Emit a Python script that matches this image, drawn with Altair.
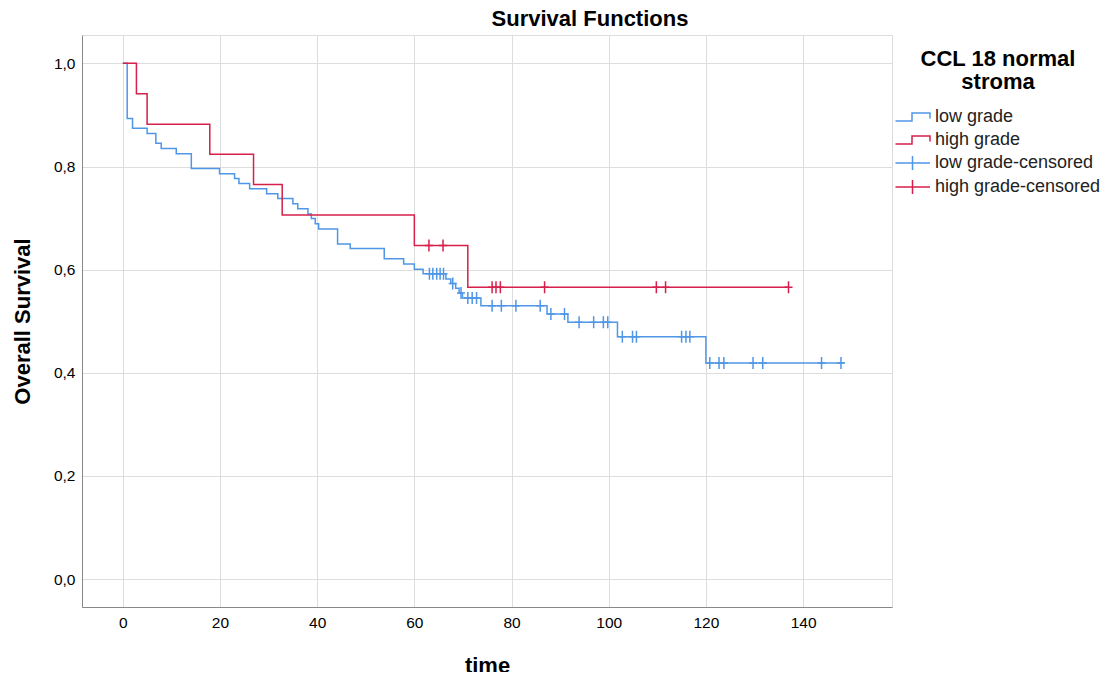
import altair as alt
import pandas as pd

FONT = "Liberation Sans"
BLUE = "#4f96e6"
RED = "#d61f4a"

# ---- data -------------------------------------------------------------
low_time = [0, 0.9, 2.0, 5.0, 6.8, 7.9, 11.0, 14.1, 19.9, 23.0, 23.9, 26.1, 29.6,
            31.9, 35.0, 36.0, 38.1, 38.8, 39.6, 40.3, 44.2, 46.8, 53.8, 57.8,
            60.0, 61.8, 66.5, 67.5, 68.5, 69.2, 69.9, 73.7, 87.3, 91.6, 101.8,
            120.0, 148.5]
low_surv = [1.0, 0.893, 0.874, 0.864, 0.845, 0.835, 0.825, 0.796, 0.786, 0.777,
            0.767, 0.757, 0.747, 0.738, 0.728, 0.718, 0.708, 0.699, 0.689, 0.679,
            0.650, 0.641, 0.621, 0.611, 0.601, 0.592, 0.582, 0.573, 0.564, 0.555,
            0.545, 0.530, 0.514, 0.498, 0.470, 0.419, 0.419]

high_time = [0, 2.8, 5.0, 17.9, 26.9, 32.8, 60.0, 71.0, 137.0]
high_surv = [1.0, 0.941, 0.882, 0.824, 0.765, 0.706, 0.647, 0.566, 0.566]

low_cens_time = [63.1, 63.8, 64.6, 65.3, 66.0, 67.9, 69.6, 71.0, 71.9, 72.8,
                 76.0, 77.9, 80.9, 85.9, 88.1, 90.9, 93.9, 96.9, 98.9, 99.8,
                 102.8, 104.9, 105.7, 115.0, 115.9, 116.7, 120.8, 122.7, 123.7,
                 129.7, 131.7, 143.8, 147.8]
low_cens_surv = [0.592, 0.592, 0.592, 0.592, 0.592, 0.573, 0.555, 0.545, 0.545,
                 0.545, 0.530, 0.530, 0.530, 0.530, 0.514, 0.514, 0.498, 0.498,
                 0.498, 0.498, 0.470, 0.470, 0.470, 0.470, 0.470, 0.470, 0.419,
                 0.419, 0.419, 0.419, 0.419, 0.419, 0.419]

high_cens_time = [63.0, 65.9, 76.0, 76.8, 77.7, 86.8, 109.8, 111.7, 137.0]
high_cens_surv = [0.647, 0.647, 0.566, 0.566, 0.566, 0.566, 0.566, 0.566, 0.566]

groups = ["low grade", "high grade"]
legend_keys = ["low grade", "high grade", "low grade-censored", "high grade-censored"]
x_ticks = [0, 20, 40, 60, 80, 100, 120, 140]
y_ticks = [0.0, 0.2, 0.4, 0.6, 0.8, 1.0]

# ---- tables -------------------------------------------------------------
steps = pd.concat([
    pd.DataFrame({"time": low_time, "surv": low_surv, "group": groups[0]}),
    pd.DataFrame({"time": high_time, "surv": high_surv, "group": groups[1]}),
])
cens = pd.concat([
    pd.DataFrame({"time": low_cens_time, "surv": low_cens_surv, "group": groups[0]}),
    pd.DataFrame({"time": high_cens_time, "surv": high_cens_surv, "group": groups[1]}),
])
legend_df = pd.DataFrame({"key": legend_keys, "time": [None] * 4, "surv": [None] * 4})

x_scale = alt.Scale(domain=[-8.4, 158.3], nice=False, zero=False)
y_scale = alt.Scale(domain=[-0.054, 1.055], nice=False, zero=False)

x_axis = alt.Axis(values=x_ticks, grid=True, ticks=False, title="time",
                  labelFontSize=15.5, labelPadding=8, titleX=405, titleY=58,
                  titleBaseline="middle", titleAnchor="middle",
                  titleFont=FONT, titleFontSize=22, titleFontWeight="bold",
                  titleColor="black")
y_axis = alt.Axis(values=y_ticks, grid=True, ticks=False, title="Overall Survival",
                  labelExpr="replace(format(datum.value, '.1f'), '.', ',')",
                  labelFontSize=15.5, labelPadding=7, titleX=-60, titleY=286,
                  titleAngle=270, titleBaseline="middle", titleAlign="center",
                  titleFont=FONT, titleFontSize=22, titleFontWeight="bold",
                  titleColor="black")

color_groups = alt.Scale(domain=groups, range=[BLUE, RED])

lines = alt.Chart(steps).mark_line(interpolate="step-after", strokeWidth=1.5).encode(
    x=alt.X("time:Q", scale=x_scale, axis=x_axis),
    y=alt.Y("surv:Q", scale=y_scale, axis=y_axis),
    color=alt.Color("group:N", scale=color_groups, legend=None),
    detail="group:N",
)

plus_shape = "M-0.67,0H0.67M0,-1V1"
censored = alt.Chart(cens).mark_point(shape=plus_shape, size=144, filled=False,
                                      strokeWidth=1.5, opacity=1).encode(
    x=alt.X("time:Q", scale=x_scale),
    y=alt.Y("surv:Q", scale=y_scale),
    color=alt.Color("group:N", scale=color_groups, legend=None),
)

step_sym = "M-1.05,0.4H0.6V-0.4H2.4V0.15"
plus_sym = "M-1.05,0H2.4M0.65,-0.7V0.7"
legend_title = ["CCL 18 normal", "stroma"]
leg = alt.Legend(title=legend_title, orient="none", legendX=813, legendY=14,
                 titleFont=FONT, titleFontSize=22, titleFontWeight="bold",
                 titleColor="black", titleAlign="center", titleAnchor="middle",
                 titleLineHeight=23, titlePadding=12, labelFont=FONT,
                 labelFontSize=18, labelColor="#222", labelOffset=18,
                 labelLimit=400,
                 symbolSize=400, symbolStrokeWidth=1.5, rowPadding=3, padding=0)

legend_layer = alt.Chart(legend_df).mark_point(filled=False, strokeWidth=1.5,
                                               size=400, opacity=1).encode(
    x=alt.X("time:Q", scale=x_scale),
    y=alt.Y("surv:Q", scale=y_scale),
    color=alt.Color("key:N", scale=alt.Scale(domain=legend_keys,
                                             range=[BLUE, RED, BLUE, RED]),
                    legend=leg),
    shape=alt.Shape("key:N", scale=alt.Scale(domain=legend_keys,
                                             range=[step_sym, step_sym, plus_sym, plus_sym]),
                    legend=leg),
).transform_filter("datum.time != null")

chart = alt.layer(lines, censored, legend_layer).resolve_scale(
    color="independent", shape="independent"
).properties(
    width=810, height=572,
    autosize="none",
    padding={"left": 74, "top": 27, "right": 212, "bottom": 65},
    title=alt.TitleParams(text="Survival Functions", font=FONT, fontSize=22,
                          fontWeight="bold", color="black", anchor="middle",
                          dx=103, dy=23, offset=10, baseline="alphabetic"),
).configure_view(stroke=None).configure_axis(
    labelFont=FONT, labelColor="#333", gridColor="#c6c6c6", gridWidth=1.8,
    domainColor="#8a8a8a", domainWidth=2,
).configure(background="white")

chart.save("out.html", embed_options={"renderer": "svg", "actions": False})
